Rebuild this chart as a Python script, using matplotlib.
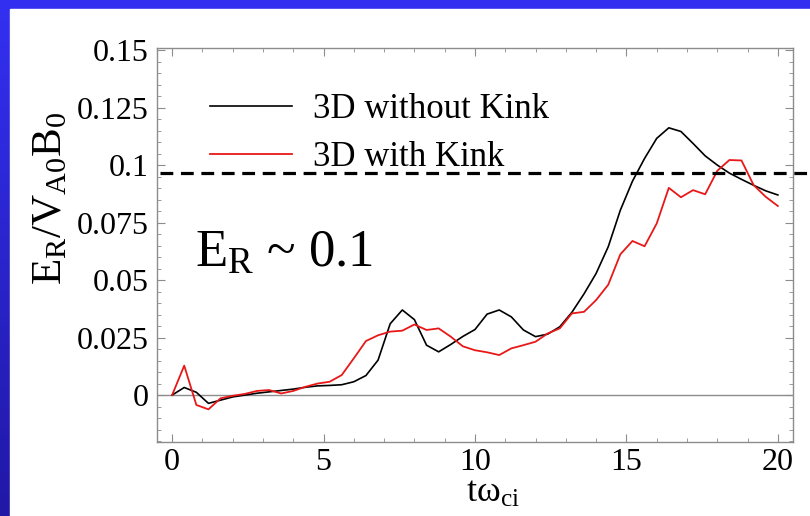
import numpy as np
import matplotlib
matplotlib.use('Agg')
import matplotlib.pyplot as plt
from matplotlib.patches import Rectangle
from matplotlib.ticker import MultipleLocator

plt.rcParams['font.family'] = 'serif'
plt.rcParams['font.serif'] = ['Liberation Serif', 'DejaVu Serif']
plt.rcParams['mathtext.fontset'] = 'custom'
plt.rcParams['mathtext.rm'] = 'Liberation Serif'
plt.rcParams['mathtext.it'] = 'Liberation Serif:italic'

# Reconnection rate vs time, sampled every 0.4
t = np.round(np.arange(0, 20.01, 0.4), 2)
rate_no_kink = [0.0, 0.0033, 0.0012, -0.0036, -0.0022, -0.0008, 0.0000, 0.0008, 0.0014, 0.0020,
                0.0026, 0.0034, 0.0040, 0.0042, 0.0045, 0.0058, 0.0085, 0.0152, 0.0310, 0.0370,
                0.0328, 0.0217, 0.0188, 0.0220, 0.0255, 0.0285, 0.0352, 0.0370, 0.0340, 0.0283,
                0.0254, 0.0265, 0.0297, 0.0360, 0.0440, 0.0529, 0.0645, 0.0804, 0.0930, 0.1029,
                0.1116, 0.1162, 0.1146, 0.1094, 0.1040, 0.1000, 0.0965, 0.0938, 0.0912, 0.0888,
                0.0870]
rate_kink = [0.0, 0.0128, -0.0043, -0.0062, -0.0014, -0.0003, 0.0005, 0.0018, 0.0022, 0.0007,
             0.0018, 0.0036, 0.0050, 0.0058, 0.0087, 0.0160, 0.0235, 0.0260, 0.0276, 0.0280,
             0.0307, 0.0283, 0.0290, 0.0254, 0.0212, 0.0195, 0.0186, 0.0174, 0.0203, 0.0217,
             0.0232, 0.0268, 0.0290, 0.0355, 0.0362, 0.0413, 0.0480, 0.0612, 0.0670, 0.0647,
             0.0746, 0.0901, 0.0860, 0.0891, 0.0873, 0.0975, 0.1022, 0.1020, 0.0913, 0.0862,
             0.0822]
labels = ['3D without Kink', '3D with Kink']
er_level = 0.0965

fig = plt.figure(figsize=(8.1, 5.16), dpi=100)

# blue slide background with white panel
bg = fig.add_axes([0, 0, 1, 1])
grad = np.linspace(0, 1, 256).reshape(-1, 1)
cmap = matplotlib.colors.LinearSegmentedColormap.from_list('slide', ['#3330F2', '#2118A6'])
bg.imshow(grad, aspect='auto', cmap=cmap, extent=[0, 1, 0, 1], origin='upper')
bg.add_patch(Rectangle((0.0123, 0), 1, 0.983, color='white', zorder=2))
bg.set_xlim(0, 1)
bg.set_ylim(0, 1)
bg.axis('off')

ax = fig.add_axes([0.1938, 0.1434, 0.7852, 0.7636])
ax.axhline(0, color='#8c8c8c', lw=1.0, zorder=1)
ax.plot(t, rate_no_kink, color='black', lw=1.2, label=labels[0])
ax.plot(t, rate_kink, color='#e81818', lw=1.3, label=labels[1])
ax.axhline(er_level, xmin=0.005, xmax=1.03, color='black', lw=2.3,
           dashes=(4, 2.4), clip_on=False)

ax.set_xlim(-0.5, 20.5)
ax.set_ylim(-0.0204, 0.1509)
ax.set_xticks([0, 5, 10, 15, 20])
ax.set_xticklabels(['0', '5', '10', '15', '20'])
ax.set_yticks([0, 0.025, 0.05, 0.075, 0.1, 0.125, 0.15])
ax.set_yticklabels(['0', '0.025', '0.05', '0.075', '0.1', '0.125', '0.15'])
ax.xaxis.set_minor_locator(MultipleLocator(1))
ax.yaxis.set_minor_locator(MultipleLocator(0.005))
ax.tick_params(which='both', direction='in', top=True, right=True, color='#8c8c8c',
               labelsize=23, pad=6)
ax.tick_params(axis='x', pad=4)
ax.tick_params(which='major', length=6, width=0.8)
ax.tick_params(which='minor', length=3, width=0.6)
for s in ax.spines.values():
    s.set_color('#8c8c8c')
    s.set_linewidth(1.0)

ax.set_xlabel('tω$_{\\mathrm{ci}}$', fontsize=26)
ax.xaxis.set_label_coords(0.528, -0.13)
ax.xaxis.label.set_va('center')
ax.set_ylabel('E$_\\mathrm{R}$/V$_\\mathrm{A0}$B$_\\mathrm{0}$', fontsize=31)
ax.yaxis.set_label_coords(-0.166, 0.62)
ax.yaxis.label.set_va('center')

ax.legend(loc='upper left', bbox_to_anchor=(0.083, 0.885), frameon=False, fontsize=25,
          handlelength=2.36, handletextpad=0.6, labelspacing=0.42, borderpad=0,
          borderaxespad=0)

ax.text(0.06, 0.444, 'E$_\\mathrm{R}$ ~ 0.1', transform=ax.transAxes, fontsize=38,
        ha='left', va='baseline')

plt.savefig('out.png', dpi=100)
